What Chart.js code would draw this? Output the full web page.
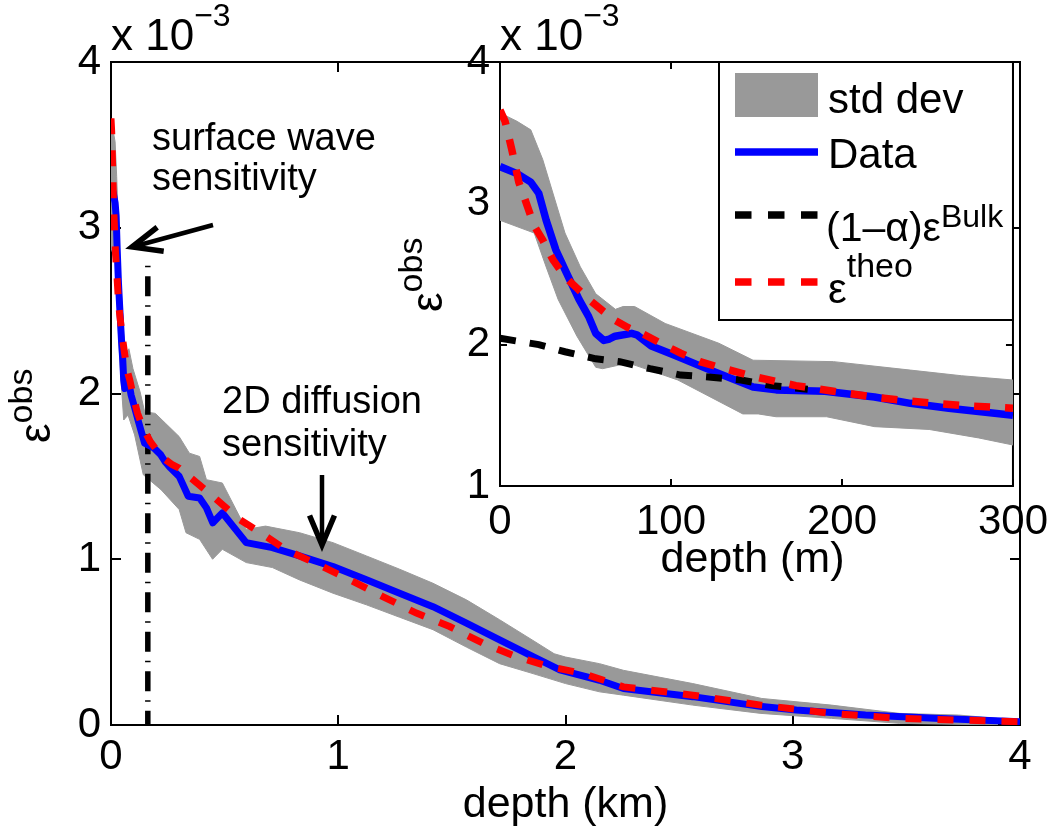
<!DOCTYPE html>
<html>
<head>
<meta charset="utf-8">
<title>epsilon obs vs depth</title>
<script src="https://cdn.jsdelivr.net/npm/chart.js@4.4.1/dist/chart.umd.min.js"></script>
<style>
  html, body { margin:0; padding:0; background:#fff; }
  #wrap { position:relative; width:1059px; height:832px; overflow:hidden; background:#fff; }
  canvas { position:absolute; }
  #mainChart { left:0; top:0; }
  #insetChart { left:380px; top:0; }
</style>
</head>
<body>
<div id="wrap">
  <canvas id="mainChart" width="1059" height="832"></canvas>
  <canvas id="insetChart" width="679" height="600"></canvas>
</div>
<script>
// ---------------- DATA (values in units of 1e-3) ----------------
// Main panel, depth in km
const mainXTicks = [0, 1, 2, 3, 4];
const mainYTicks = [0, 1, 2, 3, 4];

const mainDataDepth = [0, 0.01, 0.018, 0.0227, 0.027, 0.0327, 0.0384, 0.0462, 0.0518, 0.056, 0.0607, 0.0673, 0.077, 0.0885, 0.101, 0.123, 0.148, 0.19, 0.219, 0.24, 0.2625, 0.3, 0.34, 0.39, 0.42, 0.448, 0.49, 0.595, 0.71, 0.83, 0.977, 1.124, 1.27, 1.417, 1.564, 1.71, 1.857, 1.975, 2.15, 2.255, 2.56, 2.864, 3.016, 3.32, 3.625, 4.0];
const mainDataValue = [3.26, 3.21, 3.15, 3.07, 2.88, 2.67, 2.52, 2.32, 2.2, 2.08, 2.03, 2.06, 2.08, 1.99, 1.93, 1.82, 1.70, 1.67, 1.63, 1.585, 1.55, 1.50, 1.38, 1.37, 1.31, 1.22, 1.28, 1.10, 1.07, 1.02, 0.956, 0.876, 0.795, 0.714, 0.614, 0.513, 0.412, 0.332, 0.27, 0.22, 0.171, 0.111, 0.09, 0.06, 0.04, 0.02];

const mainTheoDepth = [0, 0.003, 0.0069, 0.011, 0.016, 0.02, 0.025, 0.031, 0.038, 0.045, 0.052, 0.06, 0.0675, 0.075, 0.083, 0.094, 0.1056, 0.117, 0.128, 0.15, 0.173, 0.195, 0.218, 0.24, 0.27, 0.3, 0.448, 0.566, 0.68, 0.77, 0.9, 1.05, 1.196, 1.344, 1.49, 1.637, 1.784, 1.93, 2.08, 2.255, 2.56, 2.86, 3.17, 3.47, 3.99];
const mainTheoValue = [3.66, 3.58, 3.38, 3.15, 2.98, 2.84, 2.74, 2.60, 2.48, 2.40, 2.32, 2.24, 2.17, 2.12, 2.08, 2.01, 1.94, 1.88, 1.84, 1.77, 1.71, 1.67, 1.63, 1.60, 1.57, 1.55, 1.38, 1.24, 1.14, 1.057, 0.976, 0.876, 0.775, 0.675, 0.594, 0.493, 0.412, 0.352, 0.31, 0.23, 0.18, 0.12, 0.07, 0.04, 0.02];

const mainUpperDepth = [0, 0.01, 0.018, 0.025, 0.038, 0.056, 0.0675, 0.0787, 0.0966, 0.128, 0.148, 0.195, 0.24, 0.3, 0.345, 0.39, 0.42, 0.49, 0.55, 0.595, 0.68, 0.83, 0.977, 1.124, 1.27, 1.417, 1.564, 1.71, 1.857, 1.95, 2.0, 2.15, 2.255, 2.56, 2.864, 3.17, 3.47, 3.73, 3.9];
const mainUpperValue = [3.64, 3.58, 3.52, 3.31, 2.79, 2.36, 2.25, 2.27, 2.15, 2.01, 1.89, 1.88, 1.82, 1.74, 1.64, 1.62, 1.48, 1.46, 1.30, 1.18, 1.20, 1.16, 1.10, 1.02, 0.94, 0.855, 0.755, 0.635, 0.51, 0.43, 0.41, 0.37, 0.33, 0.25, 0.16, 0.12, 0.07, 0.06, 0.04];
const mainLowerDepth = [0, 0.02, 0.034, 0.045, 0.056, 0.075, 0.104, 0.142, 0.22, 0.3, 0.33, 0.39, 0.447, 0.49, 0.595, 0.71, 0.83, 0.977, 1.124, 1.27, 1.417, 1.564, 1.71, 1.857, 2.0, 2.15, 2.255, 2.56, 2.86, 3.17, 3.47, 3.9];
const mainLowerValue = [2.88, 2.79, 2.32, 2.06, 1.84, 1.87, 1.75, 1.51, 1.42, 1.30, 1.16, 1.12, 1.00, 1.06, 0.98, 0.95, 0.875, 0.795, 0.725, 0.65, 0.575, 0.47, 0.37, 0.31, 0.25, 0.20, 0.18, 0.12, 0.07, 0.04, 0.01, 0.0];

// vertical dash-dot marker (surface wave sensitivity limit)
const surfaceLimitDepth = [0.162, 0.162];
const surfaceLimitValue = [2.77, 0];

// Inset panel, depth in m
const insetXTicks = [0, 100, 200, 300];
const insetYTicks = [1, 2, 3, 4];

const insetDataDepth = [0, 10, 18, 22.7, 27, 32.7, 38.4, 46.2, 51.8, 56, 60.7, 64, 67.3, 77, 80, 88.5, 101, 123, 148, 161.5, 190, 219, 240, 262.5, 300];
const insetDataValue = [3.26, 3.21, 3.15, 3.07, 2.88, 2.67, 2.52, 2.32, 2.20, 2.08, 2.03, 2.04, 2.06, 2.08, 2.07, 1.99, 1.93, 1.82, 1.70, 1.68, 1.67, 1.63, 1.585, 1.55, 1.50];

const insetTheoDepth = [0, 3, 6.9, 11, 16, 20, 25, 31, 38, 45, 52, 60, 67.5, 75, 83, 94, 105.6, 117, 128, 150, 173, 195, 218, 240, 270, 300];
const insetTheoValue = [3.66, 3.58, 3.38, 3.15, 2.98, 2.84, 2.74, 2.60, 2.48, 2.40, 2.32, 2.24, 2.17, 2.12, 2.08, 2.01, 1.94, 1.88, 1.84, 1.77, 1.71, 1.67, 1.63, 1.60, 1.57, 1.55];

const insetBulkDepth = [0, 22.7, 38, 56, 70, 87.7, 105.6, 123.5, 141, 159, 180];
const insetBulkValue = [2.045, 2.0, 1.95, 1.90, 1.88, 1.83, 1.785, 1.77, 1.75, 1.71, 1.685];

const insetUpperDepth = [0, 10, 18, 22, 25, 38, 47, 56, 67.5, 72, 78.7, 96.6, 128, 148, 195, 240, 270, 300];
const insetUpperValue = [3.64, 3.58, 3.52, 3.40, 3.31, 2.79, 2.55, 2.36, 2.25, 2.27, 2.27, 2.15, 2.01, 1.89, 1.88, 1.82, 1.78, 1.75];
const insetLowerDepth = [0, 20, 27, 34, 45, 56, 60, 75, 80, 104, 142, 151, 161.5, 191, 219, 251, 280, 300];
const insetLowerValue = [2.88, 2.79, 2.55, 2.32, 2.06, 1.84, 1.83, 1.87, 1.85, 1.75, 1.51, 1.51, 1.49, 1.49, 1.42, 1.40, 1.34, 1.29];

const legendLabels = ['std dev', 'Data', '(1\u2013\u03B1)\u03B5', '\u03B5'];
const legendSup = ['', '', 'Bulk', 'theo'];

// ---------------- STYLES ----------------
const FONT = "'Liberation Sans', Arial, Helvetica, sans-serif";
const GRAY = '#999999', BLUE = '#0000ff', RED = '#ff0000', BLACK = '#000000';
Chart.defaults.font.family = FONT;
Chart.defaults.color = '#000';

function zip(xs, ys) { return xs.map((x, i) => ({ x: x, y: ys[i] })); }
function polygon(ux, uy, lx, ly) { return zip(ux, uy).concat(zip(lx, ly).reverse()); }

function drawBox(chart, L, white) {
  const { ctx, chartArea: a, scales: { x, y } } = chart;
  ctx.save();
  if (white) { ctx.fillStyle = '#fff'; ctx.fillRect(a.left, a.top, a.right - a.left, a.bottom - a.top); }
  ctx.strokeStyle = '#000'; ctx.lineWidth = 2; ctx.lineCap = 'butt';
  ctx.beginPath();
  x.ticks.forEach(t => {
    const p = Math.round(x.getPixelForValue(t.value));
    ctx.moveTo(p, a.bottom); ctx.lineTo(p, a.bottom - L);
    ctx.moveTo(p, a.top); ctx.lineTo(p, a.top + L);
  });
  y.ticks.forEach(t => {
    const p = Math.round(y.getPixelForValue(t.value));
    ctx.moveTo(a.left, p); ctx.lineTo(a.left + L, p);
    ctx.moveTo(a.right, p); ctx.lineTo(a.right - L, p);
  });
  ctx.stroke();
  ctx.strokeRect(a.left, a.top, a.right - a.left, a.bottom - a.top);
  ctx.restore();
}

function textSup(ctx, base, sup, x, y, baseSize, supSize, raise) {
  ctx.font = baseSize + 'px ' + FONT;
  ctx.fillText(base, x, y);
  const w = ctx.measureText(base).width;
  if (sup) {
    ctx.font = supSize + 'px ' + FONT;
    ctx.fillText(sup, x + w, y - raise);
  }
}

function arrow(ctx, x1, y1, x2, y2) {
  const ang = Math.atan2(y2 - y1, x2 - x1);
  const hl = 32, ha = 0.40;
  ctx.save();
  ctx.strokeStyle = '#000'; ctx.lineWidth = 4.5; ctx.lineJoin = 'miter'; ctx.lineCap = 'butt';
  ctx.beginPath(); ctx.moveTo(x1, y1); ctx.lineTo(x2 - 3 * Math.cos(ang), y2 - 3 * Math.sin(ang)); ctx.stroke();
  ctx.lineWidth = 5.5;
  ctx.beginPath();
  ctx.moveTo(x2 - hl * Math.cos(ang - ha), y2 - hl * Math.sin(ang - ha));
  ctx.lineTo(x2, y2);
  ctx.lineTo(x2 - hl * Math.cos(ang + ha), y2 - hl * Math.sin(ang + ha));
  ctx.stroke();
  ctx.restore();
}

function yLabel(ctx, x, y, raise) {
  ctx.save();
  ctx.translate(x, y);
  ctx.rotate(-Math.PI / 2);
  ctx.fillStyle = '#000';
  ctx.textBaseline = 'alphabetic'; ctx.textAlign = 'left';
  textSup(ctx, '\u03B5', 'obs', 0, 0, 44, 34, raise);
  ctx.restore();
}

function scaleOpts(min, max, step, isX, size, pad) {
  return {
    type: 'linear', min: min, max: max,
    ticks: { stepSize: step, padding: pad, color: '#000', font: { size: 42, family: FONT }, maxRotation: 0, autoSkip: false },
    grid: { display: false, drawTicks: false },
    border: { display: false },
    afterFit: isX ? (s => { s.height = size; }) : (s => { s.width = size; })
  };
}

// ---------------- MAIN CHART ----------------
const mainDecor = {
  id: 'mainDecor',
  beforeDatasetsDraw(chart) { drawBox(chart, 10, false); },
  afterDraw(chart) {
    const ctx = chart.ctx;
    ctx.save();
    ctx.fillStyle = '#000'; ctx.textBaseline = 'alphabetic'; ctx.textAlign = 'left';
    textSup(ctx, 'x 10', '\u22123', 111, 50, 44, 32, 24);
    ctx.font = '38px ' + FONT;
    ctx.fillText('surface wave', 152, 150);
    ctx.fillText('sensitivity', 152, 190);
    ctx.fillText('2D diffusion', 222, 413);
    ctx.fillText('sensitivity', 222, 456);
    ctx.font = '43px ' + FONT; ctx.textAlign = 'center';
    ctx.fillText('depth (km)', (chart.chartArea.left + chart.chartArea.right) / 2, 817);
    ctx.restore();
    yLabel(ctx, 50, 443, 18);
    arrow(ctx, 213, 225, 132, 247);
    arrow(ctx, 322, 475, 322, 545);
  }
};

new Chart(document.getElementById('mainChart'), {
  type: 'line',
  data: {
    datasets: [
      { label: 'theo', data: zip(mainTheoDepth, mainTheoValue), borderColor: RED, borderWidth: 7, borderDash: [16, 16], borderCapStyle: 'butt', pointRadius: 0, fill: false, tension: 0, order: 0 },
      { label: 'Data', data: zip(mainDataDepth, mainDataValue), borderColor: BLUE, borderWidth: 7, borderJoinStyle: 'round', pointRadius: 0, fill: false, tension: 0, order: 1 },
      { label: 'limit', data: zip(surfaceLimitDepth, surfaceLimitValue), borderColor: BLACK, borderWidth: 5.5, borderDash: [1.5, 9, 20, 9], pointRadius: 0, fill: false, order: 2 },
      { label: 'std dev', data: polygon(mainUpperDepth, mainUpperValue, mainLowerDepth, mainLowerValue), borderColor: GRAY, backgroundColor: GRAY, borderWidth: 1, pointRadius: 0, fill: 'shape', tension: 0, order: 3 }
    ]
  },
  options: {
    responsive: false, animation: false, devicePixelRatio: 1,
    layout: { padding: { left: 0, top: 62, right: 39, bottom: 0 } },
    plugins: { legend: { display: false }, tooltip: { enabled: false } },
    scales: {
      x: scaleOpts(0, 4, 1, true, 832 - 725, 7),
      y: scaleOpts(0, 4, 1, false, 111, 10)
    }
  },
  plugins: [mainDecor]
});

// ---------------- INSET CHART ----------------
const OX = 380;
const insetDecor = {
  id: 'insetDecor',
  beforeDatasetsDraw(chart) { drawBox(chart, 7, true); },
  afterDraw(chart) {
    const ctx = chart.ctx;
    const a = chart.chartArea;
    ctx.save();
    ctx.fillStyle = '#000'; ctx.textBaseline = 'alphabetic'; ctx.textAlign = 'left';
    textSup(ctx, 'x 10', '\u22123', 500 - OX, 50, 44, 32, 24);
    ctx.font = '43px ' + FONT; ctx.textAlign = 'center';
    ctx.fillText('depth (m)', (a.left + a.right) / 2 - 4, 572);
    ctx.restore();
    yLabel(ctx, 442 - OX, 312, 20);

    // legend
    const lx = 719 - OX, ly = a.top, lw = a.right - lx, lh = 320 - a.top;
    ctx.save();
    ctx.fillStyle = '#fff'; ctx.fillRect(lx, ly, lw, lh);
    ctx.strokeStyle = '#000'; ctx.lineWidth = 2; ctx.strokeRect(lx, ly, lw, lh);
    const sx1 = 735 - OX, sx2 = 818 - OX, tx = 828 - OX;
    const ds = chart.data.datasets;
    // std dev patch
    ctx.fillStyle = ds[3].backgroundColor; ctx.fillRect(sx1, 73, sx2 - sx1, 44);
    ctx.lineCap = 'butt';
    // Data
    ctx.strokeStyle = ds[2].borderColor; ctx.lineWidth = 7.5; ctx.setLineDash([]);
    ctx.beginPath(); ctx.moveTo(sx1, 152); ctx.lineTo(sx2, 152); ctx.stroke();
    // Bulk
    ctx.strokeStyle = ds[1].borderColor; ctx.setLineDash([16.5, 16.5]);
    ctx.beginPath(); ctx.moveTo(sx1, 215); ctx.lineTo(sx2, 215); ctx.stroke();
    // theo
    ctx.strokeStyle = ds[0].borderColor;
    ctx.beginPath(); ctx.moveTo(sx1, 282); ctx.lineTo(sx2, 282); ctx.stroke();
    ctx.setLineDash([]);
    ctx.fillStyle = '#000'; ctx.textAlign = 'left'; ctx.textBaseline = 'alphabetic';
    textSup(ctx, legendLabels[0], legendSup[0], tx, 113, 42, 34, 0);
    textSup(ctx, legendLabels[1], legendSup[1], tx, 168, 42, 34, 0);
    textSup(ctx, legendLabels[2], legendSup[2], tx - 2, 241, 41, 32, 14);
    textSup(ctx, legendLabels[3], legendSup[3], tx, 303, 42, 34, 26);
    ctx.restore();
  }
};

new Chart(document.getElementById('insetChart'), {
  type: 'line',
  data: {
    datasets: [
      { label: 'theo', data: zip(insetTheoDepth, insetTheoValue), borderColor: RED, borderWidth: 7.5, borderDash: [16, 15], borderCapStyle: 'butt', pointRadius: 0, fill: false, tension: 0, order: 0 },
      { label: 'Bulk', data: zip(insetBulkDepth, insetBulkValue), borderColor: BLACK, borderWidth: 7, borderDash: [16, 14], borderCapStyle: 'butt', pointRadius: 0, fill: false, tension: 0, order: 1 },
      { label: 'Data', data: zip(insetDataDepth, insetDataValue), borderColor: BLUE, borderWidth: 7.5, borderJoinStyle: 'round', pointRadius: 0, fill: false, tension: 0, order: 2 },
      { label: 'std dev', data: polygon(insetUpperDepth, insetUpperValue, insetLowerDepth, insetLowerValue), borderColor: GRAY, backgroundColor: GRAY, borderWidth: 1, pointRadius: 0, fill: 'shape', tension: 0, order: 3 }
    ]
  },
  options: {
    responsive: false, animation: false, devicePixelRatio: 1,
    layout: { padding: { left: 0, top: 62, right: 39, bottom: 0 } },
    plugins: { legend: { display: false }, tooltip: { enabled: false } },
    scales: {
      x: scaleOpts(0, 300, 100, true, 600 - 486, 11),
      y: scaleOpts(1, 4, 1, false, 120, 10)
    }
  },
  plugins: [insetDecor]
});
</script>
</body>
</html>
